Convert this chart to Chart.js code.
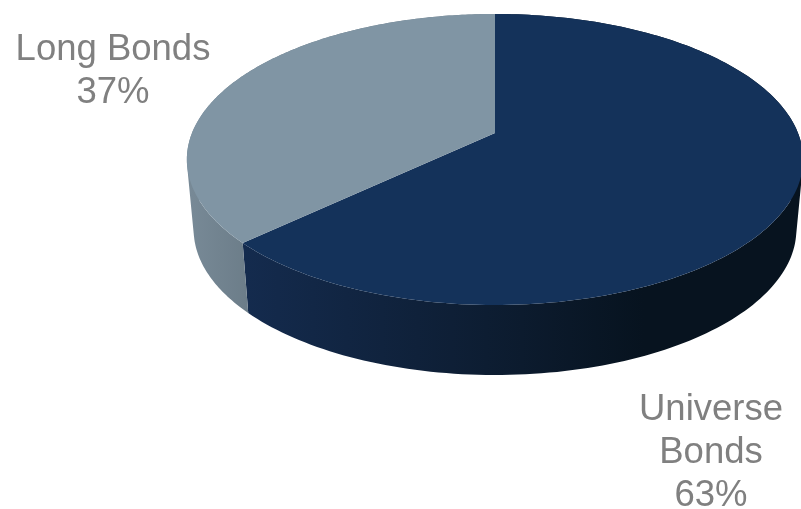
<!DOCTYPE html>
<html>
<head>
<meta charset="utf-8">
<style>
  html, body { margin: 0; padding: 0; background: #fff; }
  canvas { display: block; }
</style>
<script src="https://cdn.jsdelivr.net/npm/chart.js@4"></script>
</head>
<body>
<canvas id="myPie" width="801" height="509"></canvas>
<script>
var categories = ["Universe Bonds", "Long Bonds"];
var shares = [63, 37];
var labelLines = [["Universe", "Bonds"], ["Long Bonds"]];

var topColors = ["#14325a", "#8095a4"];
var wallStops = [
  [[0, "#142b4e"], [0.5, "#0c1b2e"], [0.72, "#07131f"], [1, "#07131f"]],
  [[0, "#788a97"], [1, "#6c7d89"]]
];

// tilted disc: perspective from the unit circle onto the page
var disc = { x: 495, y: 133, a: 303, b: 140.7, k: 0.182, depth: 70, shrink: 0.978 };

function rimPoint(angle) {
  var u = Math.cos(angle);
  var v = Math.sin(angle);
  var w = 1 - disc.k * v;
  return { x: disc.x + disc.a * u / w, y: disc.y + disc.b * v / w };
}

function lowerPoint(p) {
  return { x: disc.x + (p.x - disc.x) * disc.shrink, y: p.y + disc.depth };
}

function rimPoints(el) {
  var pts = [];
  var steps = 180;
  for (var i = 0; i <= steps; i++) {
    pts.push(rimPoint(el.startAngle + (el.endAngle - el.startAngle) * i / steps));
  }
  return pts;
}

// one quad per rim segment, all wound the same way so the union fills solid
function addWallQuad(ctx, p1, p2) {
  var q = [p1, p2, lowerPoint(p2), lowerPoint(p1)];
  var area = 0;
  for (var i = 0; i < 4; i++) {
    var n = q[(i + 1) % 4];
    area += q[i].x * n.y - n.x * q[i].y;
  }
  if (area < 0) q.reverse();
  ctx.moveTo(q[0].x, q[0].y);
  for (var j = 1; j < 4; j++) ctx.lineTo(q[j].x, q[j].y);
  ctx.closePath();
}

var pie3d = {
  id: "pie3d",
  // the arcs are painted here as a thick tilted disc, so the flat ones are skipped
  beforeDatasetsDraw: function (chart) {
    var ctx = chart.ctx;
    var arcs = chart.getDatasetMeta(0).data;

    arcs.forEach(function (el, i) {
      var pts = rimPoints(el);
      var grad = i == 0 ? ctx.createLinearGradient(243, 0, 800, 0) : ctx.createLinearGradient(187, 0, 248, 0);
      wallStops[i].forEach(function (s) { grad.addColorStop(s[0], s[1]); });
      ctx.beginPath();
      for (var j = 0; j < pts.length - 1; j++) addWallQuad(ctx, pts[j], pts[j + 1]);
      ctx.fillStyle = grad;
      ctx.fill();
    });

    arcs.forEach(function (el, i) {
      ctx.beginPath();
      ctx.moveTo(disc.x, disc.y);
      rimPoints(el).forEach(function (p) { ctx.lineTo(p.x, p.y); });
      ctx.closePath();
      ctx.fillStyle = topColors[i];
      ctx.fill();
    });
    return false;
  },
  afterDraw: function (chart) {
    var ctx = chart.ctx;
    var places = [{ x: 711, y: 420 }, { x: 113, y: 60 }];
    ctx.save();
    ctx.font = "36.5px 'Liberation Sans', Arial, sans-serif";
    ctx.fillStyle = "#808080";
    ctx.textAlign = "center";
    ctx.textBaseline = "alphabetic";
    shares.forEach(function (share, i) {
      var lines = labelLines[i].concat(share + "%");
      lines.forEach(function (line, j) {
        ctx.fillText(line, places[i].x, places[i].y + j * 43);
      });
    });
    ctx.restore();
  }
};

new Chart("myPie", {
  type: "pie",
  data: {
    labels: categories,
    datasets: [{
      data: shares,
      backgroundColor: topColors,
      borderWidth: 0
    }]
  },
  options: {
    responsive: false,
    animation: false,
    plugins: {
      legend: { display: false },
      tooltip: { enabled: false }
    }
  },
  plugins: [pie3d]
});
</script>
</body>
</html>
